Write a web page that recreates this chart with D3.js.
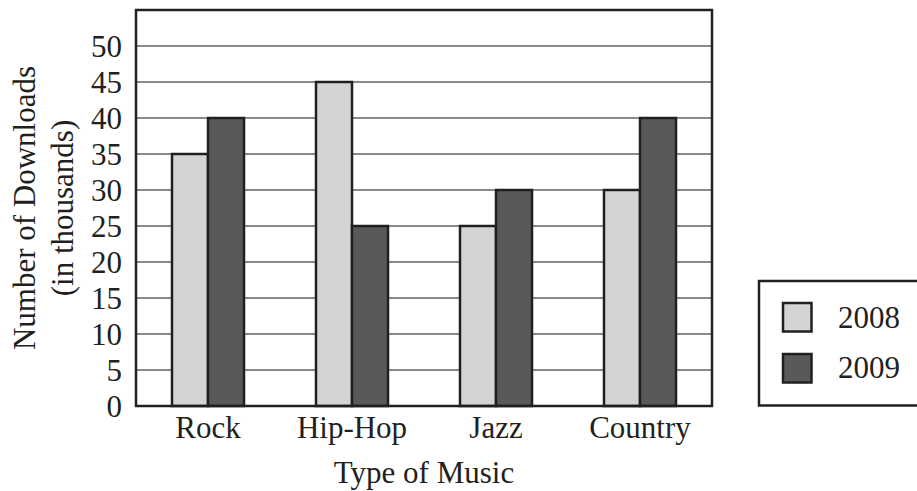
<!DOCTYPE html>
<html>
<head>
<meta charset="utf-8">
<script src="https://cdn.jsdelivr.net/npm/d3@7/dist/d3.min.js"></script>
<style>
  html, body { margin: 0; padding: 0; background: #fff; }
  svg { display: block; }
  text { font-family: "Liberation Serif", "Times New Roman", serif; fill: #231f20; }
</style>
</head>
<body>
<svg id="chart" width="917" height="491"></svg>
<script>
// Music download data (thousands)
const categories = ["Rock", "Hip-Hop", "Jazz", "Country"];
const seriesNames = ["2008", "2009"];
const values2008 = [35, 45, 25, 30];
const values2009 = [40, 25, 30, 40];
const yTicks = [0, 5, 10, 15, 20, 25, 30, 35, 40, 45, 50];

const colors = { "2008": "#d3d4d6", "2009": "#58595b" };
const ink = "#231f20";

const svg = d3.select("#chart");
const plot = { left: 136, right: 712, top: 10, bottom: 406 };

const x = d3.scaleBand().domain(categories).range([plot.left, plot.right]).paddingInner(0).paddingOuter(0);
const barW = 36;
const xInner = d3.scaleBand().domain(seriesNames)
  .range([x.bandwidth() / 2 - barW, x.bandwidth() / 2 + barW]).padding(0);
const y = d3.scaleLinear().domain([0, 55]).range([plot.bottom, plot.top]);

const rows = categories.map((c, i) => ({ cat: c, vals: { "2008": values2008[i], "2009": values2009[i] } }));

// horizontal grid lines
svg.append("g").selectAll("line")
  .data(yTicks.filter(t => t > 0))
  .join("line")
  .attr("x1", plot.left).attr("x2", plot.right)
  .attr("y1", d => y(d)).attr("y2", d => y(d))
  .attr("stroke", "#8a8a8a").attr("stroke-width", 2);

// bars
const groups = svg.append("g").selectAll("g")
  .data(rows).join("g")
  .attr("transform", d => `translate(${x(d.cat)},0)`);
groups.selectAll("rect")
  .data(d => seriesNames.map(s => ({ s, v: d.vals[s] })))
  .join("rect")
  .attr("x", d => xInner(d.s))
  .attr("width", xInner.bandwidth())
  .attr("y", d => y(d.v))
  .attr("height", d => y(0) - y(d.v))
  .attr("fill", d => colors[d.s])
  .attr("stroke", ink).attr("stroke-width", 2.5);

// plot frame
svg.append("rect")
  .attr("x", plot.left).attr("y", plot.top)
  .attr("width", plot.right - plot.left).attr("height", plot.bottom - plot.top)
  .attr("fill", "none").attr("stroke", ink).attr("stroke-width", 2.5);

// y axis labels
const yAxis = d3.axisLeft(y).tickValues(yTicks).tickSize(0).tickPadding(14);
const gy = svg.append("g").attr("transform", `translate(${plot.left},0)`).call(yAxis);
gy.select(".domain").remove();
gy.selectAll("text")
  .attr("font-family", "Liberation Serif").attr("font-size", 31)
  .attr("fill", ink).attr("dy", "0.34em");

// x axis labels
const xAxis = d3.axisBottom(x).tickSize(0).tickPadding(0);
const gx = svg.append("g").attr("transform", `translate(0,${plot.bottom})`).call(xAxis);
gx.select(".domain").remove();
gx.selectAll("text")
  .attr("font-family", "Liberation Serif").attr("font-size", 31)
  .attr("fill", ink).attr("y", 32).attr("dy", 0);

// axis titles
svg.append("text")
  .attr("x", (plot.left + plot.right) / 2).attr("y", 483)
  .attr("text-anchor", "middle").attr("font-size", 31)
  .text("Type of Music");

svg.append("text")
  .attr("transform", `translate(35,${(plot.top + plot.bottom) / 2}) rotate(-90)`)
  .attr("text-anchor", "middle").attr("font-size", 31)
  .text("Number of Downloads");
svg.append("text")
  .attr("transform", `translate(73,${(plot.top + plot.bottom) / 2}) rotate(-90)`)
  .attr("text-anchor", "middle").attr("font-size", 31)
  .text("(in thousands)");

// legend
const legend = svg.append("g");
legend.append("rect")
  .attr("x", 759).attr("y", 281).attr("width", 180).attr("height", 124.5)
  .attr("fill", "#fff").attr("stroke", ink).attr("stroke-width", 2.5);
const legendRows = [{ s: "2008", top: 303, base: 327.5 }, { s: "2009", top: 354, base: 378 }];
legend.selectAll("rect.sw")
  .data(legendRows).join("rect").attr("class", "sw")
  .attr("x", 783).attr("y", d => d.top).attr("width", 28.5).attr("height", 28.5)
  .attr("fill", d => colors[d.s]).attr("stroke", ink).attr("stroke-width", 2.5);
legend.selectAll("text")
  .data(legendRows).join("text")
  .attr("x", 838).attr("y", d => d.base)
  .attr("font-size", 31)
  .text(d => d.s);
</script>
</body>
</html>
